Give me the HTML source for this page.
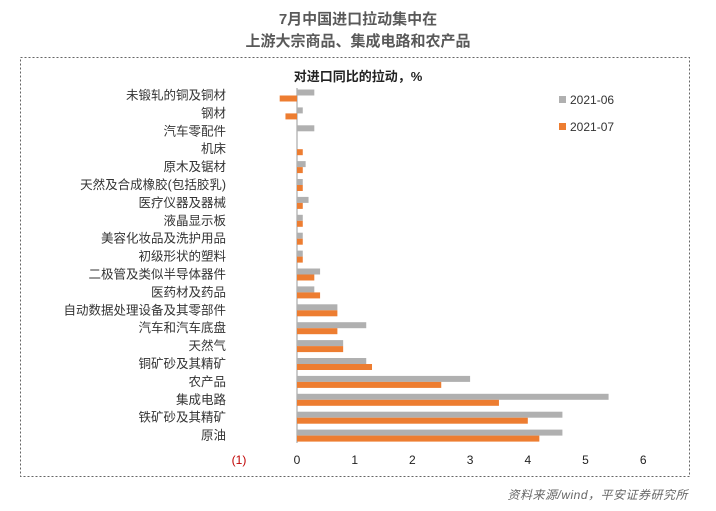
<!DOCTYPE html>
<html><head><meta charset="utf-8"><style>
body{margin:0;background:#fff;width:716px;height:506px;overflow:hidden;font-family:"Liberation Sans","Noto Sans CJK SC",sans-serif}
</style></head><body>
<svg width="716" height="506" xmlns="http://www.w3.org/2000/svg" font-family="Liberation Sans, Noto Sans CJK SC, sans-serif">
<text x="358" y="24" text-anchor="middle" font-size="15" font-weight="bold" fill="#595959">7月中国进口拉动集中在</text>
<text x="358" y="46" text-anchor="middle" font-size="15" font-weight="bold" fill="#595959">上游大宗商品、集成电路和农产品</text>
<rect x="20.5" y="57.5" width="669" height="419" fill="none" stroke="#666" stroke-dasharray="2,2"/>
<text x="358" y="81" text-anchor="middle" font-size="13" font-weight="bold" fill="#222">对进口同比的拉动，%</text>
<line x1="297" y1="88" x2="297" y2="443" stroke="#999"/>
<g id="bars"></g>
<g font-size="12.5" fill="#333" text-anchor="end" id="labels"></g>
<g font-size="12" fill="#222" text-anchor="middle">
<text x="239" y="464" fill="#c00000">(1)</text><text x="297" y="464">0</text><text x="354.7" y="464">1</text><text x="412.4" y="464">2</text><text x="470.1" y="464">3</text><text x="527.8" y="464">4</text><text x="585.5" y="464">5</text><text x="643.2" y="464">6</text>
</g>
<rect x="559" y="96" width="7" height="7" fill="#b0b0b0"/><text x="570" y="104" font-size="12" fill="#333">2021-06</text>
<rect x="559" y="123" width="7" height="7" fill="#ed7d31"/><text x="570" y="131" font-size="12" fill="#333">2021-07</text>
<text x="688" y="499" text-anchor="end" font-size="12" font-style="italic" fill="#666" letter-spacing="0.5">资料来源/wind，平安证券研究所</text>
</svg>
<script>
var d=[["未锻轧的铜及铜材",0.3,-0.3],["钢材",0.1,-0.2],["汽车零配件",0.3,0],["机床",0,0.1],["原木及锯材",0.15,0.1],["天然及合成橡胶(包括胶乳)",0.1,0.1],["医疗仪器及器械",0.2,0.1],["液晶显示板",0.1,0.1],["美容化妆品及洗护用品",0.1,0.1],["初级形状的塑料",0.1,0.1],["二极管及类似半导体器件",0.4,0.3],["医药材及药品",0.3,0.4],["自动数据处理设备及其零部件",0.7,0.7],["汽车和汽车底盘",1.2,0.7],["天然气",0.8,0.8],["铜矿砂及其精矿",1.2,1.3],["农产品",3.0,2.5],["集成电路",5.4,3.5],["铁矿砂及其精矿",4.6,4.0],["原油",4.6,4.2]];
var ns="http://www.w3.org/2000/svg",b=document.getElementById("bars"),l=document.getElementById("labels"),s=57.7,z=297;
d.forEach(function(r,i){var c=95.5+i*17.9;
[[r[1],"#b0b0b0",c-6],[r[2],"#ed7d31",c]].forEach(function(q){var e=document.createElementNS(ns,"rect");var x=q[0]<0?z+q[0]*s:z;e.setAttribute("x",x);e.setAttribute("y",q[2]);e.setAttribute("width",Math.abs(q[0])*s);e.setAttribute("height",6);e.setAttribute("fill",q[1]);b.appendChild(e);});
var t=document.createElementNS(ns,"text");t.setAttribute("x",226);t.setAttribute("y",c+4);t.textContent=r[0];l.appendChild(t);});
</script>
</body></html>
